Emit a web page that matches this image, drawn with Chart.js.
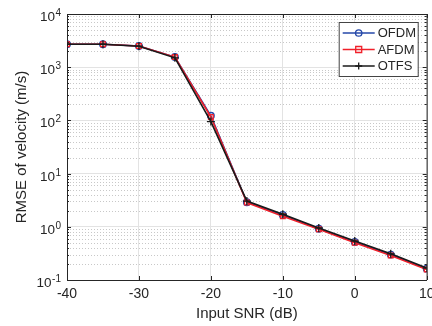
<!DOCTYPE html>
<html>
<head>
<meta charset="utf-8">
<script src="https://cdn.jsdelivr.net/npm/chart.js@4/dist/chart.umd.min.js"></script>
<style>
html,body{margin:0;padding:0;background:#fff;}
#wrap{width:432px;height:326px;position:relative;}
</style>
</head>
<body>
<div id="wrap"><canvas id="c" width="432" height="326"></canvas></div>
<script>
// ---- data ----
const snrDb = [-40, -35, -30, -25, -20, -15, -10, -5, 0, 5, 10];
const ofdm = [2700, 2700, 2500, 1550, 122, 2.9, 1.67, 0.92, 0.52, 0.30, 0.163];
const afdm = [2700, 2700, 2500, 1550, 116, 2.85, 1.58, 0.90, 0.50, 0.29, 0.158];
const otfs = [2700, 2700, 2480, 1500, 95, 3.05, 1.72, 0.95, 0.54, 0.31, 0.168];
const seriesNames = ['OFDM', 'AFDM', 'OTFS'];
const xTicks = [-40, -30, -20, -10, 0, 10];
const yDecades = [0.1, 1, 10, 100, 1000, 10000];
const yTickBase = '10';
const yTickExponents = ['-1', '0', '1', '2', '3', '4'];
const xTitle = 'Input SNR (dB)';
const yTitle = 'RMSE of velocity (m/s)';

const FONT = '"Liberation Sans", Arial, Helvetica, sans-serif';
const TXT = '#262626';
const colBlue = '#2447a8';
const colRed = '#f0202a';
const colBlack = '#1a1a1a';

// minor y values (axis structure)
const yMinor = [];
for (let d = 0; d < yDecades.length - 1; d++) {
  for (let k = 2; k <= 9; k++) yMinor.push(yDecades[d] * k);
}

const decorPlugin = {
  id: 'decor',
  beforeDatasetsDraw(chart) {
    const {ctx, chartArea: a, scales} = chart;
    const ys = scales.y;
    ctx.save();
    ctx.strokeStyle = '#c8c8c8';
    ctx.lineWidth = 1;
    ctx.setLineDash([1, 2]);
    yMinor.forEach(v => {
      const p = Math.round(ys.getPixelForValue(v)) + 0.5;
      ctx.beginPath(); ctx.moveTo(a.left, p); ctx.lineTo(a.right, p); ctx.stroke();
    });
    ctx.setLineDash([]);
    ctx.restore();
  },
  afterDatasetsDraw(chart) {
    const {ctx, chartArea: a, scales} = chart;
    const ys = scales.y, xs = scales.x;
    ctx.save();
    ctx.strokeStyle = '#262626';
    ctx.lineWidth = 1;
    ctx.beginPath();
    ctx.moveTo(a.left, a.top + 0.5); ctx.lineTo(a.right + 0.5, a.top + 0.5); ctx.lineTo(a.right + 0.5, a.bottom);
    ctx.stroke();
    ctx.beginPath();
    xTicks.forEach(v => {
      const p = Math.round(xs.getPixelForValue(v)) + 0.5;
      ctx.moveTo(p, a.bottom); ctx.lineTo(p, a.bottom - 4);
      ctx.moveTo(p, a.top); ctx.lineTo(p, a.top + 4);
    });
    yDecades.forEach(v => {
      const p = Math.round(ys.getPixelForValue(v)) + 0.5;
      ctx.moveTo(a.left, p); ctx.lineTo(a.left + 4, p);
      ctx.moveTo(a.right, p); ctx.lineTo(a.right - 4, p);
    });
    yMinor.forEach(v => {
      const p = Math.round(ys.getPixelForValue(v)) + 0.5;
      ctx.moveTo(a.left, p); ctx.lineTo(a.left + 2, p);
      ctx.moveTo(a.right, p); ctx.lineTo(a.right - 2, p);
    });
    ctx.stroke();

    // y tick labels: base + superscript exponent
    ctx.fillStyle = TXT;
    ctx.textAlign = 'right';
    ctx.textBaseline = 'alphabetic';
    yDecades.forEach((v, i) => {
      const p = ys.getPixelForValue(v);
      const rx = a.left - 6;
      ctx.font = '10px ' + FONT;
      const ew = ctx.measureText(yTickExponents[i]).width;
      ctx.fillText(yTickExponents[i], rx, p + 2);
      ctx.font = '13.5px ' + FONT;
      ctx.fillText(yTickBase, rx - ew - 0.5, p + 7);
    });

    // legend
    const bx = a.right - 88, by = a.top + 8, bw = 79, bh = 54;
    ctx.fillStyle = '#ffffff';
    ctx.fillRect(bx, by, bw, bh);
    ctx.strokeStyle = '#444';
    ctx.lineWidth = 1;
    ctx.strokeRect(bx + 0.5, by + 0.5, bw, bh);
    chart.data.datasets.forEach((ds, i) => {
      const yy = by + 11 + i * 16.5;
      ctx.strokeStyle = ds.borderColor;
      ctx.lineWidth = 1.5;
      ctx.beginPath(); ctx.moveTo(bx + 4, yy); ctx.lineTo(bx + 36, yy); ctx.stroke();
      const mx = bx + 20;
      ctx.lineWidth = 1.3;
      ctx.beginPath();
      if (ds.pointStyle === 'circle') { ctx.arc(mx, yy, 3.2, 0, Math.PI * 2); }
      else if (ds.pointStyle === 'rect') { ctx.rect(mx - 3, yy - 3, 6, 6); }
      else { ctx.moveTo(mx - 3.5, yy); ctx.lineTo(mx + 3.5, yy); ctx.moveTo(mx, yy - 3.5); ctx.lineTo(mx, yy + 3.5); }
      ctx.stroke();
      ctx.fillStyle = TXT;
      ctx.font = '13px ' + FONT;
      ctx.textBaseline = 'middle';
      ctx.textAlign = 'left';
      ctx.fillText(ds.label, bx + 39, yy + 0.5);
    });
    ctx.restore();
  }
};

function mk(label, data, color, style, order) {
  return {
    label, data, borderColor: color, backgroundColor: 'rgba(0,0,0,0)',
    borderWidth: 1.6, pointStyle: style, pointRadius: style === 'cross' ? 4 : 3.3,
    pointBorderWidth: 1.3, pointBorderColor: color, pointBackgroundColor: 'rgba(0,0,0,0)',
    tension: 0, order
  };
}

new Chart(document.getElementById('c'), {
  type: 'line',
  data: {
    datasets: [
      mk(seriesNames[0], snrDb.map((x, i) => ({x, y: ofdm[i]})), colBlue, 'circle', 2),
      mk(seriesNames[1], snrDb.map((x, i) => ({x, y: afdm[i]})), colRed, 'rect', 1),
      mk(seriesNames[2], snrDb.map((x, i) => ({x, y: otfs[i]})), colBlack, 'cross', 0)
    ]
  },
  options: {
    responsive: false,
    animation: false,
    devicePixelRatio: 1,
    layout: {padding: {left: 0, top: 14, right: 5, bottom: 0}},
    plugins: {legend: {display: false}, tooltip: {enabled: false}},
    scales: {
      x: {
        type: 'linear', min: -40, max: 10,
        afterBuildTicks: s => { s.ticks = xTicks.map(v => ({value: v})); },
        afterFit: s => { s.height = 46; s.paddingLeft = 0; s.paddingRight = 0; },
        grid: {color: '#e3e3e3', drawTicks: false, lineWidth: 1},
        border: {color: '#262626', width: 1},
        ticks: {color: TXT, font: {family: FONT, size: 14}, padding: 6, autoSkip: false, maxRotation: 0,
                callback: v => String(v)},
        title: {display: true, text: xTitle, color: TXT, font: {family: FONT, size: 15}, padding: {top: 0, bottom: 3}}
      },
      y: {
        type: 'logarithmic', min: 0.1, max: 10000,
        afterBuildTicks: s => { s.ticks = yDecades.map(v => ({value: v, major: true})); },
        afterFit: s => { s.width = 67; s.paddingTop = 0; s.paddingBottom = 0; },
        grid: {color: '#e3e3e3', drawTicks: false, lineWidth: 1},
        border: {color: '#262626', width: 1},
        ticks: {display: false},
        title: {display: true, text: yTitle, color: TXT, font: {family: FONT, size: 15}, padding: {top: 13, bottom: 0}}
      }
    }
  },
  plugins: [decorPlugin]
});
</script>
</body>
</html>
